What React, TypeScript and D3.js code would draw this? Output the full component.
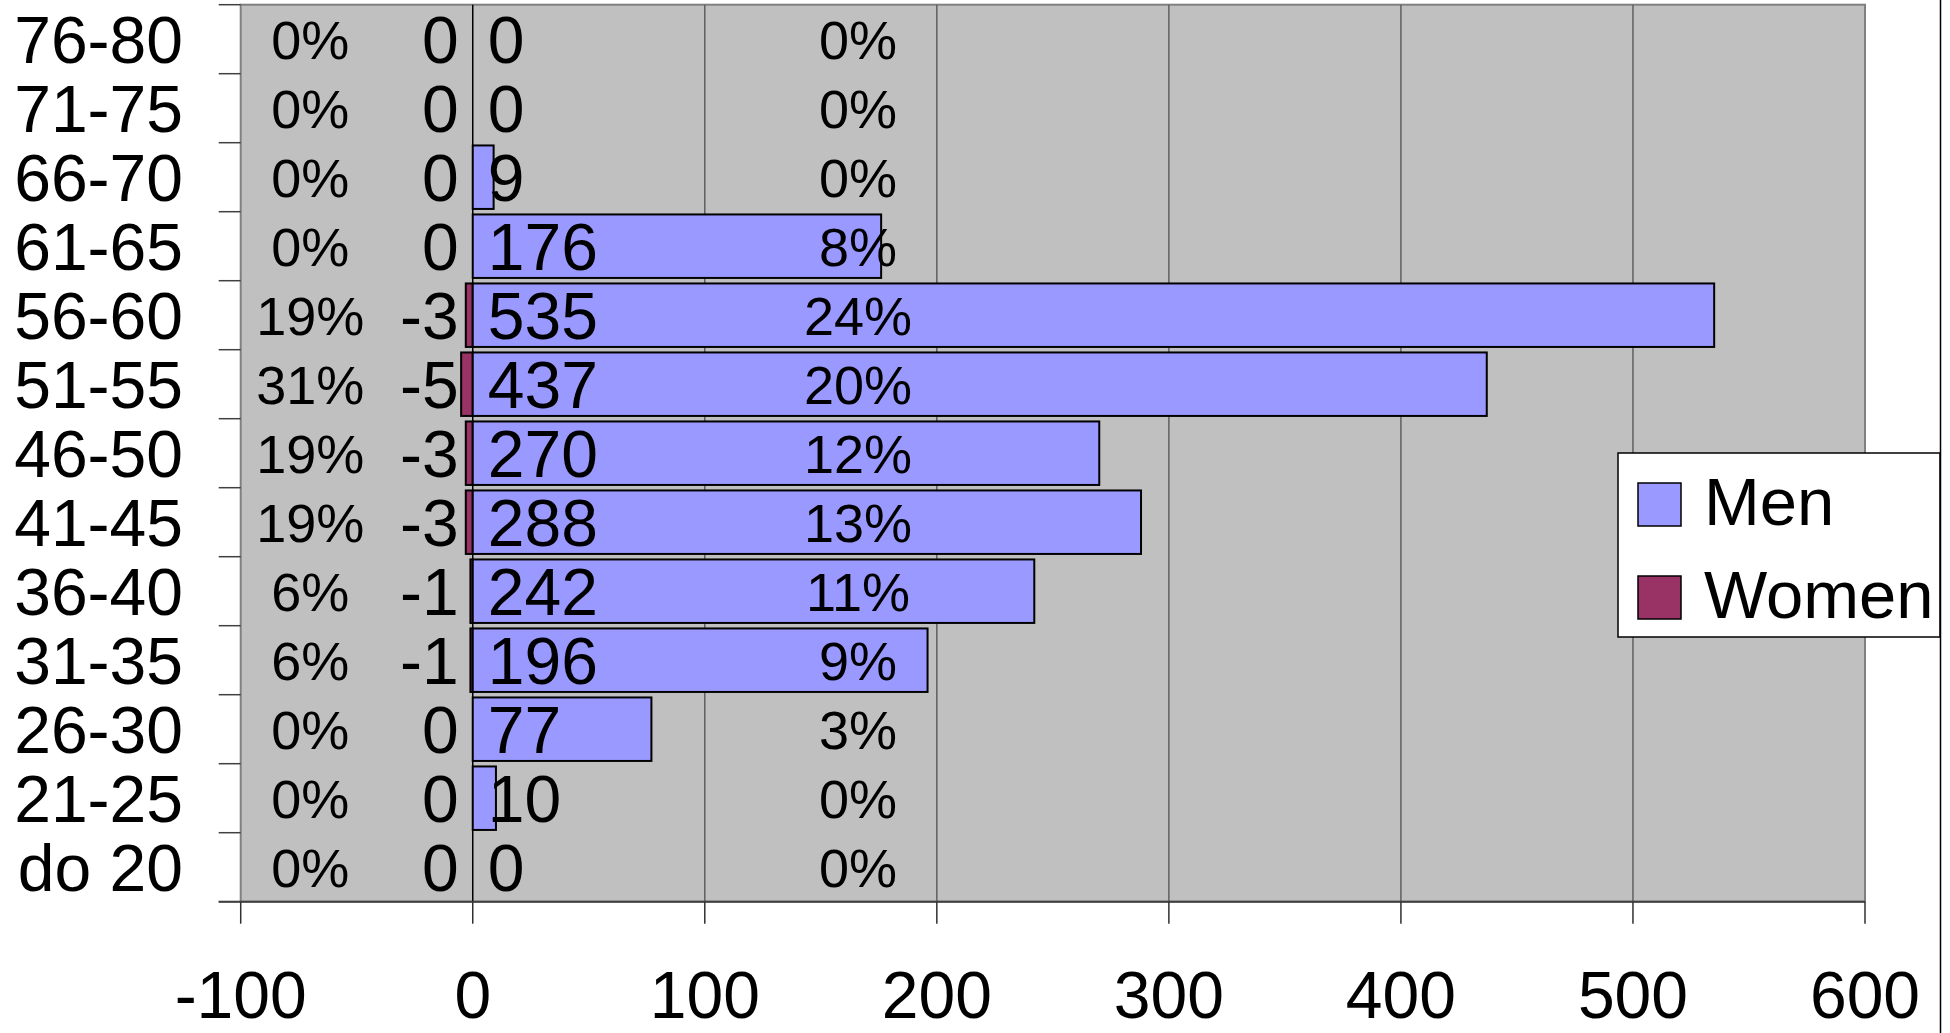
import * as d3 from "d3";
import { useEffect, useRef } from "react";

// age groups, bottom to top
const categories = [
  "do 20",
  "21-25",
  "26-30",
  "31-35",
  "36-40",
  "41-45",
  "46-50",
  "51-55",
  "56-60",
  "61-65",
  "66-70",
  "71-75",
  "76-80",
];
const men = [0, 10, 77, 196, 242, 288, 270, 437, 535, 176, 9, 0, 0];
const women = [0, 0, 0, -1, -1, -3, -3, -5, -3, 0, 0, 0, 0];
const womenShare = [0, 0, 0, 6, 6, 19, 19, 31, 19, 0, 0, 0, 0];
const menShare = [0, 0, 3, 9, 11, 13, 12, 20, 24, 8, 0, 0, 0];
const xTicks = [-100, 0, 100, 200, 300, 400, 500, 600];
const seriesNames = ["Men", "Women"];

const FONT = "'Liberation Sans', Arial, sans-serif";

export default function App() {
  const ref = useRef<SVGSVGElement | null>(null);

  useEffect(() => {
    const svg = d3.select(ref.current);
    svg.selectAll("*").remove();

    const width = 1950;
    const height = 1033;
    const plot = { left: 240.7, right: 1865, top: 4.7, bottom: 901.7 };

    const x = d3.scaleLinear().domain([-100, 600]).range([plot.left, plot.right]);
    const y = d3
      .scaleBand<string>()
      .domain([...categories].reverse())
      .range([plot.top, plot.bottom])
      .paddingInner(0.08)
      .paddingOuter(0.04);

    const color = d3
      .scaleOrdinal<string, string>()
      .domain(seriesNames)
      .range(["#9999FF", "#993366"]);

    svg.attr("width", width).attr("height", height);

    // plot area
    svg
      .append("rect")
      .attr("x", plot.left)
      .attr("y", plot.top)
      .attr("width", plot.right - plot.left)
      .attr("height", plot.bottom - plot.top)
      .attr("fill", "#C0C0C0")
      .attr("stroke", "#808080")
      .attr("stroke-width", 2);

    // gridlines
    svg
      .append("g")
      .selectAll("line")
      .data(xTicks.filter((t) => t > -100 && t < 600 && t !== 0))
      .enter()
      .append("line")
      .attr("x1", (d) => x(d))
      .attr("x2", (d) => x(d))
      .attr("y1", plot.top)
      .attr("y2", plot.bottom)
      .attr("stroke", "#5f5f5f")
      .attr("stroke-width", 1.5);

    // category axis at zero
    svg
      .append("line")
      .attr("x1", x(0))
      .attr("x2", x(0))
      .attr("y1", plot.top)
      .attr("y2", plot.bottom)
      .attr("stroke", "#000")
      .attr("stroke-width", 1.5);

    // bottom axis line + ticks
    svg
      .append("line")
      .attr("x1", plot.left - 22)
      .attr("x2", plot.right)
      .attr("y1", plot.bottom)
      .attr("y2", plot.bottom)
      .attr("stroke", "#404040")
      .attr("stroke-width", 2);

    svg
      .append("g")
      .selectAll("line")
      .data(xTicks)
      .enter()
      .append("line")
      .attr("x1", (d) => x(d))
      .attr("x2", (d) => x(d))
      .attr("y1", plot.bottom)
      .attr("y2", plot.bottom + 22)
      .attr("stroke", "#303030")
      .attr("stroke-width", 1.5);

    svg
      .append("g")
      .selectAll("text")
      .data(xTicks)
      .enter()
      .append("text")
      .attr("x", (d) => x(d))
      .attr("y", 1018)
      .attr("text-anchor", "middle")
      .style("font-family", FONT)
      .style("font-size", "66px")
      .text((d) => d);

    // category ticks on the left edge
    const step = y.step();
    const gap = (step - y.bandwidth()) / 2;
    const bounds = [...categories].reverse().map((c) => (y(c) as number) - gap);
    bounds.push(plot.bottom);

    svg
      .append("g")
      .selectAll("line")
      .data(bounds)
      .enter()
      .append("line")
      .attr("x1", plot.left - 22)
      .attr("x2", plot.left)
      .attr("y1", (d) => d)
      .attr("y2", (d) => d)
      .attr("stroke", "#404040")
      .attr("stroke-width", 1.5);

    const mid = (c: string) => (y(c) as number) + y.bandwidth() / 2;

    svg
      .append("g")
      .selectAll("text")
      .data(categories)
      .enter()
      .append("text")
      .attr("x", 183)
      .attr("y", (d) => mid(d) + 24)
      .attr("text-anchor", "end")
      .style("font-family", FONT)
      .style("font-size", "66px")
      .text((d) => d);

    // bars
    const rows = categories.map((c, i) => ({
      cat: c,
      men: men[i],
      women: women[i],
      menShare: menShare[i],
      womenShare: womenShare[i],
    }));

    svg
      .append("g")
      .selectAll("rect")
      .data(rows.filter((d) => d.women !== 0))
      .enter()
      .append("rect")
      .attr("x", (d) => x(d.women))
      .attr("y", (d) => y(d.cat) as number)
      .attr("width", (d) => x(0) - x(d.women))
      .attr("height", y.bandwidth())
      .attr("fill", color("Women"))
      .attr("stroke", "#000")
      .attr("stroke-width", 2);

    svg
      .append("g")
      .selectAll("rect")
      .data(rows.filter((d) => d.men !== 0))
      .enter()
      .append("rect")
      .attr("x", x(0))
      .attr("y", (d) => y(d.cat) as number)
      .attr("width", (d) => x(d.men) - x(0))
      .attr("height", y.bandwidth())
      .attr("fill", color("Men"))
      .attr("stroke", "#000")
      .attr("stroke-width", 2);

    // data labels
    const label = (
      cls: string,
      xPos: number,
      anchor: string,
      size: number,
      txt: (d: (typeof rows)[number]) => string
    ) =>
      svg
        .append("g")
        .attr("class", cls)
        .selectAll("text")
        .data(rows)
        .enter()
        .append("text")
        .attr("x", xPos)
        .attr("y", (d) => mid(d.cat) + size * 0.36)
        .attr("text-anchor", anchor)
        .style("font-family", FONT)
        .style("font-size", `${size}px`)
        .text(txt);

    label("women-share", x(-70), "middle", 54, (d) => `${d.womenShare}%`);
    label("women-count", x(0) - 14, "end", 66, (d) => `${d.women}`);
    label("men-count", x(0) + 15, "start", 66, (d) => `${d.men}`);
    label("men-share", x(166), "middle", 54, (d) => `${d.menShare}%`);

    // legend
    const legend = svg.append("g").attr("transform", "translate(1618, 453)");
    legend
      .append("rect")
      .attr("width", 322)
      .attr("height", 184)
      .attr("fill", "#fff")
      .attr("stroke", "#000")
      .attr("stroke-width", 1.5);

    const item = legend
      .selectAll("g.item")
      .data(seriesNames)
      .enter()
      .append("g")
      .attr("class", "item")
      .attr("transform", (_, i) => `translate(20, ${30 + i * 93})`);

    item
      .append("rect")
      .attr("width", 43)
      .attr("height", 43)
      .attr("fill", (d) => color(d))
      .attr("stroke", "#000")
      .attr("stroke-width", 1.5);

    item
      .append("text")
      .attr("x", 66)
      .attr("y", 42)
      .style("font-family", FONT)
      .style("font-size", "67px")
      .text((d) => d);

    // chart area border on the right
    svg
      .append("line")
      .attr("x1", 1940.5)
      .attr("x2", 1940.5)
      .attr("y1", 0)
      .attr("y2", height)
      .attr("stroke", "#000")
      .attr("stroke-width", 1.5);
  }, []);

  return (
    <svg
      ref={ref}
      style={{ position: "absolute", left: 0, top: 0, background: "#fff" }}
    ></svg>
  );
}
